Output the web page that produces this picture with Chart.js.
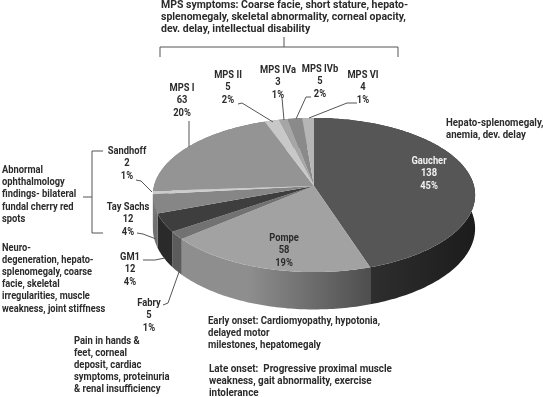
<!DOCTYPE html>
<html>
<head>
<meta charset="utf-8">
<style>
  html, body { margin: 0; padding: 0; background: #fff; }
  #wrap { width: 543px; height: 397px; }
  canvas { filter: blur(0.35px); }
</style>
<script src="https://cdn.jsdelivr.net/npm/chart.js@4/dist/chart.umd.min.js"></script>
</head>
<body>
<div id="wrap"><canvas id="myChart" width="543" height="397"></canvas></div>
<script>
const categories = ['Gaucher', 'Pompe', 'Fabry', 'GM1', 'Tay Sachs', 'Sandhoff', 'MPS I', 'MPS II', 'MPS IVa', 'MPS IVb', 'MPS VI'];
const patients = [138, 58, 5, 12, 12, 2, 63, 5, 3, 5, 4];
const percentLabels = ['45%', '19%', '1%', '4%', '4%', '1%', '20%', '2%', '1%', '2%', '1%'];

const mpsNote = ['MPS symptoms: Coarse facie, short stature, hepato-', 'splenomegaly, skeletal abnormality, corneal opacity,', 'dev. delay, intellectual disability'];
const gaucherNote = ['Hepato-splenomegaly,', 'anemia, dev. delay'];
const eyeNote = ['Abnormal', 'ophthalmology', 'findings- bilateral', 'fundal cherry red', 'spots'];
const gm1Note = ['Neuro-', 'degeneration, hepato-', 'splenomegaly, coarse', 'facie, skeletal', 'irregularities, muscle', 'weakness, joint stiffness'];
const fabryNote = ['Pain in hands &', 'feet, corneal', 'deposit, cardiac', 'symptoms, proteinuria', '& renal insufficiency'];
const earlyNote = ['Early onset: Cardiomyopathy, hypotonia,', 'delayed motor', 'milestones, hepatomegaly'];
const lateNote = ['Late onset:  Progressive proximal muscle', 'weakness, gait abnormality, exercise', 'intolerance'];

// colours of the top face and of the rim (rim is [left, right] of a gradient)
const topColors = ['#565656', '#a2a2a2', '#727272', '#3e3e3e', '#868686', '#cccccc', '#949494', '#c8c8c8', '#a6a6a6', '#8a8a8a', '#b6b6b6'];
const rimColors = [['#2e2e2e', '#1c1c1c'], ['#8e8e8e', '#4e4e4e'], ['#5c5c5c', '#5c5c5c'], ['#2a2a2a', '#2a2a2a'], ['#707070', '#707070'], ['#999', '#999'], ['#777', '#777'], ['#999', '#999'], ['#888', '#888'], ['#777', '#777'], ['#999', '#999']];

// where the "name / value / percent" label of each slice sits
const labelSpots = [[429, 161], [284, 238], [149, 303], [130, 257], [128, 207], [127, 151], [182, 88], [228, 75], [278, 70], [320, 69], [363, 75]];

const leaders = [
  [[189, 121], [189, 147]],
  [[238, 104], [242, 103], [273, 122]],
  [[282, 98], [284, 120]],
  [[311, 97], [306, 97], [296, 119]],
  [[357, 103], [347, 103], [309, 118]],
  [[136, 180], [141, 181], [152, 192]],
  [[137, 233], [143, 234], [156, 239]],
  [[143, 260], [155, 260], [165, 258]],
  [[163, 305], [168, 303], [179, 272]],
  // brackets
  [[160, 57], [160, 47], [398, 47], [398, 57]],
  [[284, 37], [284, 47]],
  [[103, 151], [92, 151], [92, 233], [103, 233]],
  [[83, 197], [92, 197]]
];

const SQUASH = 0.475;   // vertical size of the disc
const PERSP = 0.117;    // how much the front of the disc grows
const DEPTH = 33;       // rim height

function project(arc, angle, ratio, drop) {
  const X = Math.cos(angle) * ratio;
  const Y = Math.sin(angle) * ratio;
  const w = 1 - PERSP * Y;
  return [
    arc.x + arc.outerRadius * X / w,
    arc.y + arc.outerRadius * SQUASH * Y / w + (drop ? DEPTH / (1 - PERSP * Math.sin(angle)) : 0)
  ];
}

function arcPoints(arc, drop) {
  const pts = [];
  const steps = Math.max(2, Math.ceil((arc.endAngle - arc.startAngle) * 60));
  for (let i = 0; i <= steps; i++) {
    pts.push(project(arc, arc.startAngle + (arc.endAngle - arc.startAngle) * i / steps, 1, drop));
  }
  return pts;
}

function tracePoints(ctx, pts) {
  pts.forEach((p, i) => i ? ctx.lineTo(p[0], p[1]) : ctx.moveTo(p[0], p[1]));
}

// Chart.js works out the slice angles, this only lays them on a tilted disc
const tiltedPie = {
  id: 'tiltedPie',
  beforeDatasetDraw(chart, args) {
    const ctx = chart.ctx;
    const arcs = args.meta.data;
    arcs.forEach((arc, i) => {
      const top = arcPoints(arc, false);
      const bottom = arcPoints(arc, true).reverse();
      const xs = top.map(p => p[0]);
      const grad = ctx.createLinearGradient(Math.min(...xs), 0, Math.max(...xs) + 0.01, 0);
      grad.addColorStop(0, rimColors[i][0]);
      grad.addColorStop(0.35, rimColors[i][0]);
      grad.addColorStop(1, rimColors[i][1]);
      ctx.beginPath();
      tracePoints(ctx, top.concat(bottom));
      ctx.closePath();
      ctx.fillStyle = grad;
      ctx.fill();
    });
    arcs.forEach(arc => {
      ctx.beginPath();
      tracePoints(ctx, [[arc.x, arc.y]].concat(arcPoints(arc, false)));
      ctx.closePath();
      ctx.fillStyle = arc.options.backgroundColor;
      ctx.fill();
    });
    return false;
  }
};

// squeeze narrows the lines, the installed fonts run wider than the original one
function drawLines(ctx, lines, x, y, lineHeight, squeeze) {
  lines.forEach((line, i) => {
    ctx.fillText(line, x, y + i * lineHeight, ctx.measureText(line).width * squeeze);
  });
}

const annotations = {
  id: 'annotations',
  afterDraw(chart) {
    const ctx = chart.ctx;
    ctx.save();
    ctx.strokeStyle = '#555';
    ctx.lineWidth = 1;
    leaders.forEach(line => {
      ctx.beginPath();
      tracePoints(ctx, line);
      ctx.stroke();
    });

    ctx.font = 'bold 10.5px Roboto';
    ctx.textBaseline = 'middle';
    ctx.textAlign = 'center';
    categories.forEach((name, i) => {
      ctx.fillStyle = i === 0 ? '#f0f0f0' : '#2b2b2b';
      drawLines(ctx, [name, String(patients[i]), percentLabels[i]], labelSpots[i][0], labelSpots[i][1], 12.6, 0.89);
    });

    ctx.fillStyle = '#2b2b2b';
    ctx.textAlign = 'left';
    drawLines(ctx, mpsNote, 161, 5, 12, 1);
    drawLines(ctx, gaucherNote, 446, 123, 12.5, 0.92);
    drawLines(ctx, eyeNote, 2, 170, 12.3, 0.89);
    drawLines(ctx, gm1Note, 2, 248, 12.2, 0.88);
    drawLines(ctx, fabryNote, 74, 341, 12.2, 0.9);
    drawLines(ctx, earlyNote, 208, 321, 12, 0.91);
    drawLines(ctx, lateNote, 209, 369, 12, 0.94);
    ctx.restore();
  }
};

new Chart('myChart', {
  type: 'pie',
  data: {
    labels: categories,
    datasets: [{ data: patients, backgroundColor: topColors, borderWidth: 0 }]
  },
  options: {
    responsive: false,
    animation: false,
    radius: 160,
    layout: { padding: { left: 85, bottom: 25 } },
    plugins: { legend: { display: false }, tooltip: { enabled: false } }
  },
  plugins: [tiltedPie, annotations]
});
</script>
</body>
</html>
